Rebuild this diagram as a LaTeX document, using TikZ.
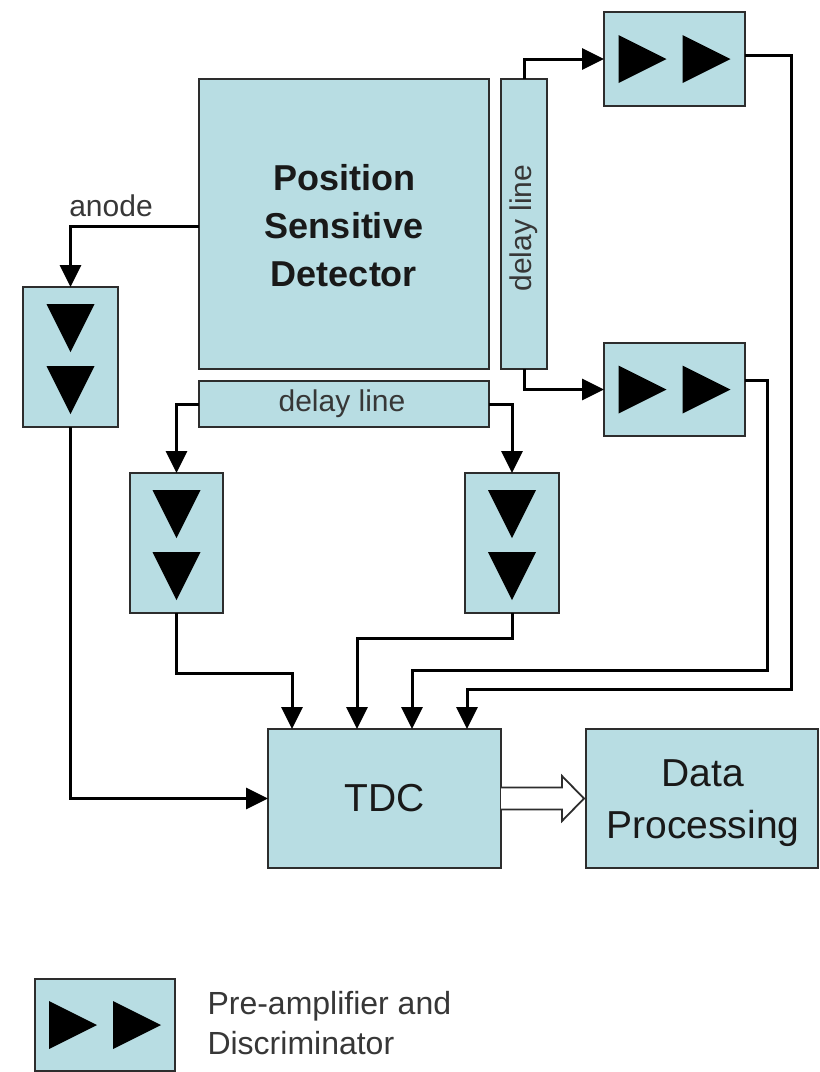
\documentclass[tikz,border=0pt]{standalone}
\usepackage{fontspec}
\setmainfont{Liberation Sans}
\usetikzlibrary{arrows.meta,calc}
\definecolor{boxfill}{RGB}{184,221,227}
\definecolor{boxline}{RGB}{45,45,45}
\definecolor{labelgray}{RGB}{55,55,55}
\tikzset{
  blk/.style={draw=boxline,line width=2.6pt,fill=boxfill,inner sep=0pt,outer sep=0pt},
  conn/.style={draw=black,line width=3pt,-{Triangle[width=21pt,length=22pt]}},
  rtri/.pic={\fill[black] (-56,-24) -- (-8,0) -- (-56,24) -- cycle;
             \fill[black] (8,-24) -- (56,0) -- (8,24) -- cycle;},
  dtri/.pic={\fill[black] (-24,-53) -- (24,-53) -- (0,-5) -- cycle;
             \fill[black] (-24,9) -- (24,9) -- (0,57) -- cycle;},
  bigbold/.style={font=\fontsize{36}{48}\selectfont\bfseries,align=center,text=black!90},
  big/.style={font=\fontsize{39}{52}\selectfont,align=center,text=black!90},
  lbl/.style={font=\fontsize{30}{36}\selectfont,text=labelgray}
}
\begin{document}
\begin{tikzpicture}[x=1pt,y=-1pt]
\useasboundingbox[fill=white] (0,0) rectangle (820,1072);
% blocks
\node[blk,minimum width=290pt,minimum height=290pt] (psd) at (344,224) {};
\node[bigbold] (psdt) at (344,226) {Position\\Sensitive\\Detector};
\node[blk,minimum width=46pt,minimum height=290pt] (vdl) at (524,224) {};
\node[lbl,rotate=90] (vdlt) at (524,228) {delay line};
\node[blk,minimum width=290pt,minimum height=46pt] (hdl) at (344,404) {};
\node[lbl] (hdlt) at (342,404) {delay line};
\node[blk,minimum width=141pt,minimum height=94pt] (ampT) at (674.5,59) {};
\node[blk,minimum width=141pt,minimum height=93pt] (ampM) at (674.5,389.5) {};
\node[blk,minimum width=95pt,minimum height=140pt] (ampA) at (70.5,357) {};
\node[blk,minimum width=93pt,minimum height=140pt] (ampL) at (176.5,543) {};
\node[blk,minimum width=94pt,minimum height=140pt] (ampR) at (512,543) {};
\node[blk,minimum width=233pt,minimum height=139pt] (tdc) at (384.5,798.5) {};
\node[big] (tdct) at (384.5,798.5) {TDC};
\node[blk,minimum width=232pt,minimum height=139pt] (dp) at (702,798.5) {};
\node[big] (dpt) at (703,803) {Data\\Processing};
\node[blk,minimum width=140pt,minimum height=92pt] (leg) at (105,1025) {};
\pic at (ampT.center) {rtri};
\pic at (ampM.center) {rtri};
\pic at (leg.center) {rtri};
\pic at (ampA.center) {dtri};
\pic at (ampL.center) {dtri};
\pic at (ampR.center) {dtri};
% labels
\node[lbl] (anode) at (111,206) {anode};
\node[lbl,font=\fontsize{32}{40}\selectfont,anchor=west,align=left] (legt) at (204,1023) {Pre-amplifier and\\Discriminator};
% connectors
\draw[conn] ([yshift=-2pt]psd.west) -| (ampA.north);
\draw[conn] (ampA.south) |- (tdc.west);
\draw[conn] (hdl.west) -| (ampL.north);
\draw[conn] (hdl.east) -| (ampR.north);
\draw[conn] (vdl.north) |- (ampT.west);
\draw[conn] (vdl.south) |- (ampM.west);
\draw[conn] ([yshift=4pt]ampT.east) -- ++(46,0) |- ++(-324,634) -| ([xshift=82.5pt]tdc.north);
\draw[conn] ([yshift=9pt]ampM.east) -- ++(22,0) |- ++(-355,290) -| ([xshift=27.5pt]tdc.north);
\draw[conn] (ampR.south) -- ++(0,25) -| ([xshift=-27.5pt]tdc.north);
\draw[conn] (ampL.south) -- ++(0,60) -| ([xshift=-92.5pt]tdc.north);
% hollow arrow
\draw[draw=boxline,line width=1.8pt,fill=white] ([yshift=11pt]tdc.east) -- ++(61,0) -- ++(0,-11.5) -- ++(22,22.5) -- ++(-22,22.5) -- ++(0,-11.5) -- ++(-61,0);
\end{tikzpicture}
\end{document}
